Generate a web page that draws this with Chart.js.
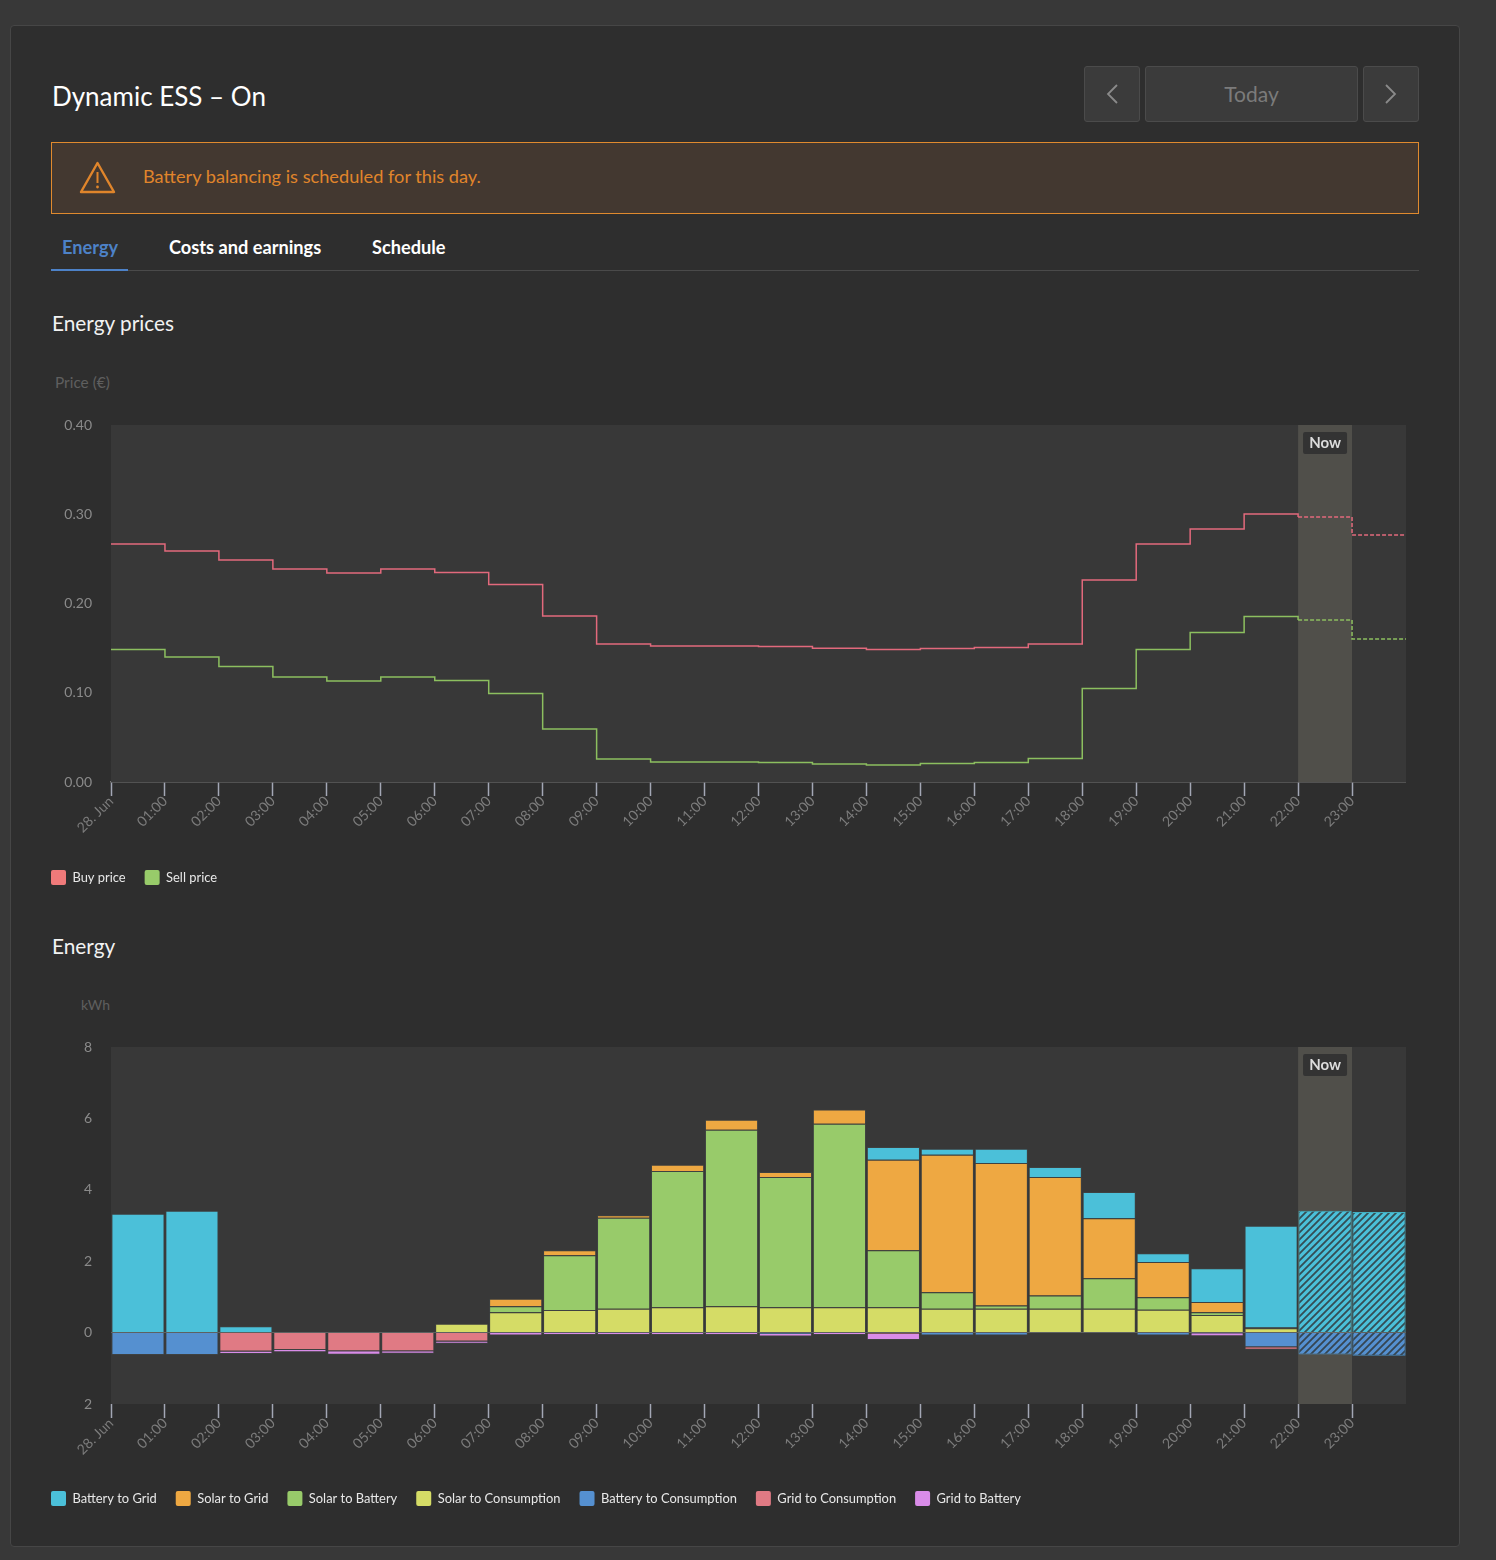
<!DOCTYPE html>
<html>
<head>
    <title>Dynamic ESS</title>
    <script src="https://cdn.jsdelivr.net/npm/chart.js"></script>
    <style>
        html, body { margin: 0; padding: 0; }
        body {
            width: 1496px;
            height: 1560px;
            position: relative;
            overflow: hidden;
            background: #383838;
            font-family: Lato, sans-serif;
            color: #fff;
        }
        .abs { position: absolute; white-space: nowrap; }
        .panel {
            position: absolute;
            left: 10px; top: 25px;
            width: 1448px; height: 1520px;
            background: #2e2e2e;
            border: 1px solid #464646;
            border-radius: 4px;
        }
        .btn {
            position: absolute;
            top: 66px; height: 54px;
            background: #3b3b3b;
            border: 1px solid #4b4b4b;
            border-radius: 3px;
            color: #7b7b7b;
            font-size: 21px;
            line-height: 54px;
            text-align: center;
        }
        .btn svg { position: absolute; left: 18px; top: 15px; }
        .alert {
            position: absolute;
            left: 51px; top: 142px;
            width: 1366px; height: 70px;
            background: #433830;
            border: 1px solid #e08a2e;
        }
        .tab { top: 236px; font-size: 18.2px; font-weight: 700; line-height: 22px; }
        .heading { left: 52px; font-size: 20.8px; line-height: 26px; color: #f2f2f2; }
        .unit { font-size: 14px; color: #5f5f5f; line-height: 18px; }
        canvas { position: absolute; left: 32px; }
    </style>
</head>
<body>
    <div class="panel"></div>
    <div class="abs" style="left:52px;top:80px;font-size:26px;line-height:32px">Dynamic ESS – On</div>

    <div class="btn" style="left:1084px;width:54px">
        <svg width="18" height="24" viewBox="0 0 18 24"><path d="M14 3 L5 12 L14 21" fill="none" stroke="#8a8a8a" stroke-width="1.8"/></svg>
    </div>
    <div class="btn" style="left:1145px;width:211px">Today</div>
    <div class="btn" style="left:1363px;width:54px">
        <svg width="18" height="24" viewBox="0 0 18 24"><path d="M4 3 L13 12 L4 21" fill="none" stroke="#8a8a8a" stroke-width="1.8"/></svg>
    </div>

    <div class="alert"></div>
    <svg class="abs" style="left:79px;top:160px" width="38" height="34" viewBox="0 0 38 34">
        <path d="M18.5 3 L35 32 L2 32 Z" fill="none" stroke="#e0852b" stroke-width="2.4" stroke-linejoin="round"/>
        <path d="M18.5 12 L18.5 23" stroke="#e0852b" stroke-width="2"/>
        <circle cx="18.5" cy="27" r="1.4" fill="#e0852b"/>
    </svg>
    <div class="abs" style="left:143px;top:164px;font-size:18.2px;line-height:24px;color:#e0852b">Battery balancing is scheduled for this day.</div>

    <div class="abs tab" style="left:62px;color:#4d82c8">Energy</div>
    <div class="abs tab" style="left:169px">Costs and earnings</div>
    <div class="abs tab" style="left:372px">Schedule</div>
    <div class="abs" style="left:51px;top:270px;width:1368px;height:1px;background:#4a4a4a"></div>
    <div class="abs" style="left:51px;top:269px;width:77px;height:2px;background:#4d82c8"></div>

    <div class="abs heading" style="top:310px">Energy prices</div>
    <div class="abs unit" style="left:55px;top:373px;font-size:15.4px">Price (€)</div>
    <canvas id="priceChart" width="1374" height="515" style="top:380px"></canvas>

    <div class="abs heading" style="top:933px">Energy</div>
    <div class="abs unit" style="left:81px;top:996px">kWh</div>
    <canvas id="energyChart" width="1374" height="514" style="top:1002px"></canvas>

    <script>
        const hours = [0,1,2,3,4,5,6,7,8,9,10,11,12,13,14,15,16,17,18,19,20,21,22,23];
        const tickLabels = ['28. Jun','01:00','02:00','03:00','04:00','05:00','06:00','07:00','08:00','09:00','10:00','11:00','12:00','13:00','14:00','15:00','16:00','17:00','18:00','19:00','20:00','21:00','22:00','23:00'];
        const nowHour = 22;

        const buyPrice = [0.2667,0.2588,0.2487,0.2387,0.2342,0.2387,0.2347,0.2213,0.186,0.1546,0.1524,0.1524,0.1518,0.150,0.1485,0.1496,0.1508,0.1547,0.2263,0.2667,0.2835,0.3003,0.2970,0.2768];
        const sellPrice = [0.1485,0.140,0.1294,0.1176,0.1132,0.1176,0.1137,0.0991,0.0594,0.0258,0.0224,0.0224,0.0218,0.0202,0.0190,0.0207,0.0218,0.0263,0.1048,0.1485,0.1675,0.1854,0.1815,0.1602];

        const batteryToGrid = [3.33,3.41,0.18,0,0,0,0,0,0,0,0,0,0,0,0.36,0.17,0.40,0.28,0.74,0.24,0.94,2.85,3.41,3.38];
        const solarToGrid = [0,0,0,0,0,0,0,0.21,0.14,0.07,0.17,0.28,0.14,0.40,2.53,3.85,3.99,3.32,1.68,0.99,0.29,0.02,0,0];
        const solarToBattery = [0,0,0,0,0,0,0,0.17,1.54,2.55,3.82,4.94,3.65,5.14,1.60,0.46,0.09,0.37,0.85,0.35,0.08,0,0,0];
        const solarToConsumption = [0,0,0,0,0,0,0.25,0.57,0.63,0.67,0.71,0.74,0.71,0.71,0.71,0.67,0.67,0.67,0.67,0.64,0.49,0.12,0,0];
        const batteryToConsumption = [-0.63,-0.63,0,0,0,0,0,0,0,0,0,0,-0.04,0,0,-0.08,-0.08,0,0,-0.08,-0.02,-0.41,-0.61,-0.65];
        const gridToConsumption = [0,0,-0.53,-0.49,-0.52,-0.52,-0.25,0,0,0,0,0,0,0,-0.03,0,0,0,0,0,0,-0.07,0,0];
        const gridToBattery = [0,0,-0.07,-0.06,-0.10,-0.07,-0.06,-0.08,-0.07,-0.07,-0.07,-0.07,-0.07,-0.07,-0.18,0,0,0,0,0,-0.08,0,0,0];

        const legendOrder = ['Battery to Grid','Solar to Grid','Solar to Battery','Solar to Consumption','Battery to Consumption','Grid to Consumption','Grid to Battery'];

        // plot background, the "now" band and its label
        const nowBand = {
            id: 'nowBand',
            beforeDatasetsDraw(chart) {
                const { ctx, chartArea: a, scales: { x } } = chart;
                const x0 = x.getPixelForValue(nowHour), x1 = x.getPixelForValue(nowHour + 1);
                ctx.save();
                ctx.fillStyle = '#383838';
                ctx.fillRect(a.left, a.top, a.right - a.left, a.bottom - a.top);
                ctx.fillStyle = '#504f4a';
                ctx.fillRect(x0, a.top, x1 - x0, a.bottom - a.top);
                ctx.restore();
            },
            afterDraw(chart) {
                const { ctx, chartArea: a, scales: { x } } = chart;
                const x0 = x.getPixelForValue(nowHour), x1 = x.getPixelForValue(nowHour + 1);
                const mid = (x0 + x1) / 2;
                ctx.save();
                ctx.fillStyle = '#333333';
                ctx.beginPath();
                ctx.roundRect(mid - 22, a.top + 7, 44, 22, 2);
                ctx.fill();
                ctx.fillStyle = '#dcdcdc';
                ctx.font = '700 15px Lato';
                ctx.textAlign = 'center';
                ctx.textBaseline = 'middle';
                ctx.fillText('Now', mid, a.top + 18);
                ctx.restore();
            }
        };

        function xAxis(showBorder, height) {
            return {
                type: 'linear',
                min: 0,
                max: 24,
                offset: false,
                stacked: true,
                afterBuildTicks(s) { s.ticks = s.ticks.filter(t => t.value < 24); },
                afterFit(s) { s.height = height; },
                border: { display: showBorder, color: '#777777', width: 1.5 },
                grid: { drawOnChartArea: false, drawTicks: true, tickLength: 14, tickColor: '#a3a7b5', tickWidth: 1.5, offset: false },
                ticks: {
                    stepSize: 1,
                    autoSkip: false,
                    minRotation: 45,
                    maxRotation: 45,
                    padding: -3,
                    color: '#7c7c7c',
                    font: { family: 'Lato', size: 14 },
                    callback: v => tickLabels[v]
                }
            };
        }

        function yTicks(callback, stepSize) {
            return { stepSize, padding: 19, color: '#8a8a8a', font: { family: 'Lato', size: 14 }, callback };
        }

        function legend(sort) {
            return {
                position: 'bottom',
                align: 'start',
                labels: {
                    boxWidth: 15,
                    boxHeight: 15,
                    padding: 19,
                    color: '#e8e8e8',
                    useBorderRadius: true,
                    borderRadius: 2,
                    font: { family: 'Lato', size: 12.9 },
                    sort,
                    generateLabels(chart) {
                        const items = Chart.defaults.plugins.legend.labels.generateLabels(chart);
                        items.forEach(it => { it.lineWidth = 0; it.strokeStyle = 'transparent'; });
                        return items;
                    }
                }
            };
        }

        function priceSeries(label, values, fill, stroke) {
            const points = hours.map((h, i) => ({ x: h, y: values[i] }));
            points.push({ x: 24, y: values[values.length - 1] });
            return {
                label,
                data: points,
                stepped: true,
                borderColor: stroke,
                backgroundColor: fill,
                borderWidth: 1.5,
                pointRadius: 0,
                segment: { borderDash: c => c.p0.parsed.x >= nowHour ? [4, 2] : undefined }
            };
        }

        new Chart(document.getElementById('priceChart'), {
            type: 'line',
            data: {
                datasets: [
                    priceSeries('Buy price', buyPrice, '#f07a7a', '#e2697c'),
                    priceSeries('Sell price', sellPrice, '#98cb6a', '#8cbf5f')
                ]
            },
            options: {
                responsive: false,
                animation: false,
                layout: { padding: { top: 45 } },
                scales: {
                    x: xAxis(true, 69),
                    y: {
                        min: 0,
                        max: 0.4,
                        afterFit(s) { s.width = 79; },
                        border: { display: false },
                        grid: { drawTicks: false, drawOnChartArea: false },
                        ticks: yTicks(v => v.toFixed(2), 0.1)
                    }
                },
                plugins: { legend: legend(), tooltip: { enabled: false } }
            },
            plugins: [nowBand]
        });

        // diagonal hatching for the bars that are still forecast
        function hatch(color) {
            const tile = document.createElement('canvas');
            tile.width = tile.height = 7;
            const c = tile.getContext('2d');
            c.fillStyle = color;
            c.fillRect(0, 0, 7, 7);
            c.strokeStyle = 'rgba(48,56,60,0.85)';
            c.lineWidth = 1.8;
            c.beginPath();
            c.moveTo(-1, 8); c.lineTo(8, -1);
            c.moveTo(-1, 1); c.lineTo(1, -1);
            c.moveTo(6, 8); c.lineTo(8, 6);
            c.stroke();
            return c.createPattern(tile, 'repeat');
        }

        function energySeries(label, values, color, forecastBorder) {
            const pattern = hatch(color);
            return {
                label,
                data: hours.map((h, i) => ({ x: h + 0.5, y: values[i] })),
                stack: 'energy',
                backgroundColor: c => c.dataIndex >= nowHour ? pattern : color,
                borderColor: c => c.dataIndex >= nowHour ? forecastBorder : 'rgba(80,90,90,0.25)',
                borderWidth: 1,
                barPercentage: 0.985,
                categoryPercentage: 1
            };
        }

        // stacking runs in dataset order, so the solar flows come first
        new Chart(document.getElementById('energyChart'), {
            type: 'bar',
            data: {
                datasets: [
                    energySeries('Solar to Consumption', solarToConsumption, '#d5dc66', '#d5dc66'),
                    energySeries('Solar to Battery', solarToBattery, '#98cb6a', '#98cb6a'),
                    energySeries('Solar to Grid', solarToGrid, '#eea842', '#eea842'),
                    energySeries('Battery to Grid', batteryToGrid, '#4bc0d9', '#43aebf'),
                    energySeries('Battery to Consumption', batteryToConsumption, '#5590d0', '#4a8fc0'),
                    energySeries('Grid to Consumption', gridToConsumption, '#e07a84', '#e07a84'),
                    energySeries('Grid to Battery', gridToBattery, '#d98ce8', '#d98ce8')
                ]
            },
            options: {
                responsive: false,
                animation: false,
                layout: { padding: { top: 45 } },
                scales: {
                    x: xAxis(false, 68),
                    y: {
                        min: -2,
                        max: 8,
                        stacked: true,
                        afterFit(s) { s.width = 79; },
                        border: { display: false },
                        grid: {
                            z: 1,
                            drawTicks: false,
                            color: c => c.tick.value === 0 ? 'rgba(120,125,125,0.6)' : 'transparent'
                        },
                        ticks: yTicks(v => Math.abs(v), 2)
                    }
                },
                plugins: {
                    legend: legend((a, b) => legendOrder.indexOf(a.text) - legendOrder.indexOf(b.text)),
                    tooltip: { enabled: false }
                }
            },
            plugins: [nowBand]
        });
    </script>
</body>
</html>
